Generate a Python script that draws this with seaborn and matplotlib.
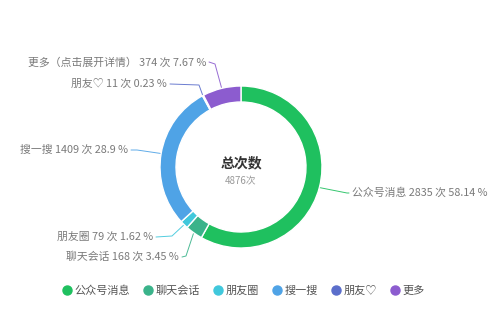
import numpy as np
import matplotlib
matplotlib.use("Agg")
import matplotlib.pyplot as plt
import seaborn as sns
from matplotlib.lines import Line2D

# data
names = ["公众号消息", "聊天会话", "朋友圈", "搜一搜", "朋友♡", "更多（点击展开详情）"]
legend_names = ["公众号消息", "聊天会话", "朋友圈", "搜一搜", "朋友♡", "更多"]
counts = [2835, 168, 79, 1409, 11, 374]
percents = [58.14, 3.45, 1.62, 28.9, 0.23, 7.67]
colors = ["#1fc05f", "#3ab38a", "#40c8dc", "#4fa3e6", "#5b6ecb", "#8c5ccf"]
total = 4876

sns.set_theme(style="white")
plt.rcParams["font.family"] = ["Noto Sans CJK SC", "DejaVu Sans"]

W, H = 500, 326
fig = plt.figure(figsize=(5, 3.26), dpi=100)
ax = fig.add_axes([0, 0, 1, 1])

cx, cy, R = 241, H - 167, 81
wedges, _ = ax.pie(counts, colors=colors, startangle=90, counterclock=False,
                   center=(cx, cy), radius=R, frame=True,
                   wedgeprops=dict(width=16, edgecolor="white", linewidth=1))
ax.set_xlim(0, W)
ax.set_ylim(0, H)
ax.axis("off")

# label layout (pixel coords from top): elbow point, text anchor, alignment
elbows = [(347, 193), (186, 256), (172, 236), (137, 150), (199, 85), (215, 64)]
text_pos = [(352, 193), (179, 257), (153, 237), (128, 150), (167, 84), (206, 62)]
aligns = ["left", "right", "right", "right", "right", "right"]

for w, name, c, p, col, e, t, ha in zip(wedges, names, counts, percents, colors,
                                        elbows, text_pos, aligns):
    mid = np.deg2rad((w.theta1 + w.theta2) / 2)
    x0 = cx + (R + 1) * np.cos(mid)
    y0 = cy + (R + 1) * np.sin(mid)
    ex, ey = e[0], H - e[1]
    tx = t[0] - 3 if ha == "left" else t[0] + 3
    ax.plot([x0, ex, tx], [y0, ey, H - t[1]], color=col, lw=0.7, alpha=0.9)
    ax.text(t[0], H - t[1], f"{name} {c} 次 {p} %", ha=ha, va="center",
            fontsize=7.8, color="#7a7a7a")

ax.text(cx, H - 163, "总次数", ha="center", va="center", fontsize=10,
        fontweight="bold", color="#333333")
ax.text(cx, H - 181, f"{total}次", ha="center", va="center", fontsize=7,
        color="#999999")

handles = [Line2D([0], [0], marker="o", color="none", markerfacecolor=col,
                  markeredgecolor=col, markersize=6.5) for col in colors]
leg = fig.legend(handles, legend_names, loc="center", ncol=6,
                 bbox_to_anchor=(0.485, 1 - 291 / H), frameon=False,
                 fontsize=8, handletextpad=0.15, columnspacing=0.95,
                 handlelength=1.2, labelcolor="#555555")

fig.savefig("out.png", dpi=100)
